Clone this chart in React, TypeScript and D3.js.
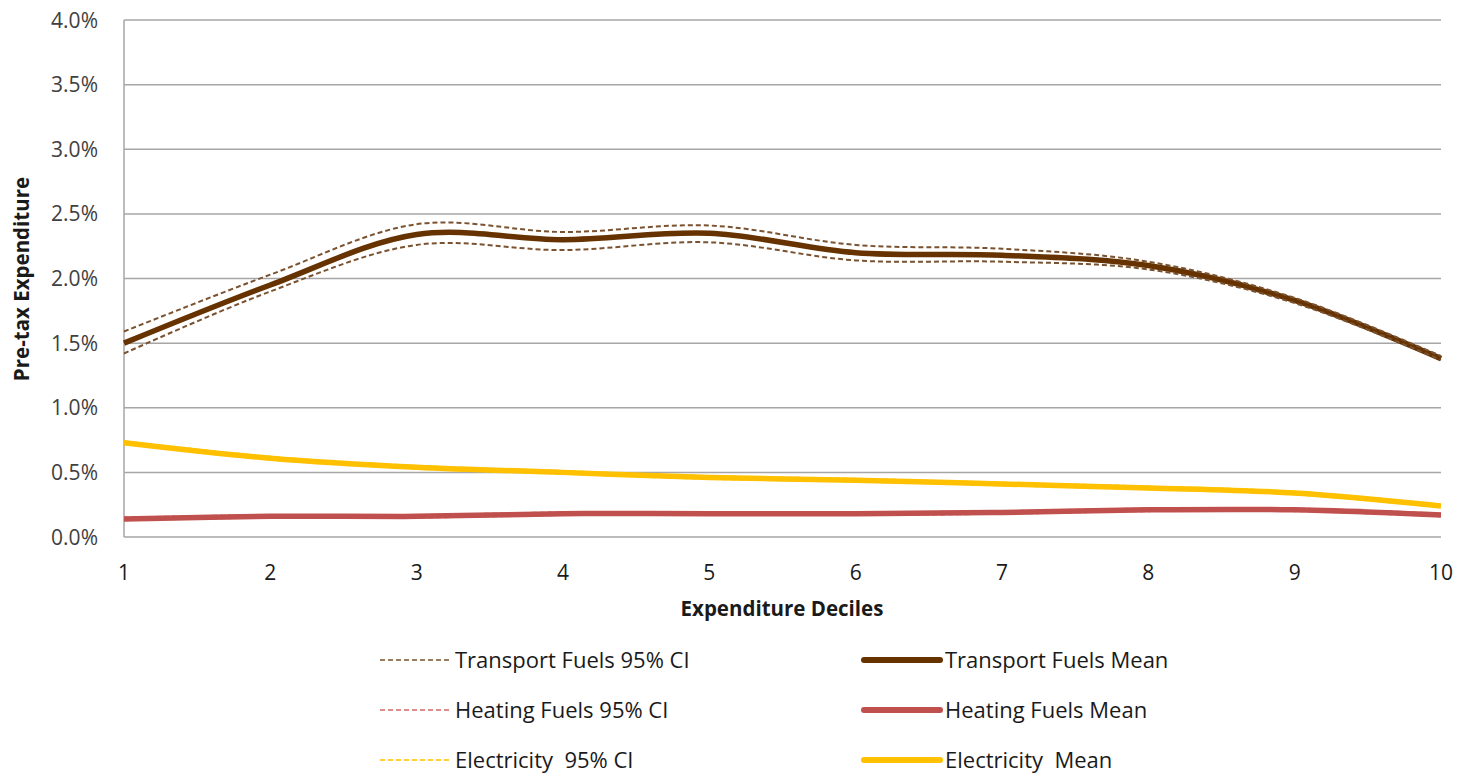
import React from "react";
import * as d3 from "d3";

const deciles = [1, 2, 3, 4, 5, 6, 7, 8, 9, 10];

const transportMean = [1.5, 1.95, 2.34, 2.3, 2.35, 2.2, 2.18, 2.1, 1.83, 1.38];
const transportUpper = [1.59, 2.03, 2.42, 2.36, 2.41, 2.26, 2.23, 2.13, 1.85, 1.4];
const transportLower = [1.42, 1.9, 2.26, 2.22, 2.28, 2.14, 2.13, 2.07, 1.81, 1.37];

const heatingMean = [0.14, 0.16, 0.16, 0.18, 0.18, 0.18, 0.19, 0.21, 0.21, 0.17];
const heatingUpper = [0.15, 0.17, 0.17, 0.19, 0.19, 0.19, 0.2, 0.22, 0.22, 0.18];
const heatingLower = [0.13, 0.15, 0.15, 0.17, 0.17, 0.17, 0.18, 0.2, 0.2, 0.16];

const electricityMean = [0.73, 0.61, 0.54, 0.5, 0.46, 0.44, 0.41, 0.38, 0.34, 0.24];
const electricityUpper = [0.74, 0.62, 0.55, 0.51, 0.47, 0.45, 0.42, 0.39, 0.35, 0.25];
const electricityLower = [0.72, 0.6, 0.53, 0.49, 0.45, 0.43, 0.4, 0.37, 0.33, 0.23];

const yTicks = [0, 0.5, 1, 1.5, 2, 2.5, 3, 3.5, 4];

const legendRows = [
  { ci: "Transport Fuels 95% CI", mean: "Transport Fuels Mean", color: "#663300", ciColor: "#7a5230" },
  { ci: "Heating Fuels 95% CI", mean: "Heating Fuels Mean", color: "#c0504d", ciColor: "#d06a67" },
  { ci: "Electricity  95% CI", mean: "Electricity  Mean", color: "#ffc000", ciColor: "#ffc000" },
];

const width = 1459;
const height = 775;
const plot = { left: 124, right: 1441, top: 20, bottom: 537 };
const font = "'Open Sans', Lato, sans-serif";

export default function App() {
  const x = d3.scaleLinear().domain([1, 10]).range([plot.left, plot.right]);
  const y = d3.scaleLinear().domain([0, 4]).range([plot.bottom, plot.top]);

  const line = d3
    .line<number>()
    .x((_, i) => x(deciles[i]))
    .y((d) => y(d))
    .curve(d3.curveCatmullRom.alpha(0.5));

  const series = [
    { values: heatingLower, color: "#d06a67", dashed: true },
    { values: heatingUpper, color: "#d06a67", dashed: true },
    { values: electricityLower, color: "#ffc000", dashed: true },
    { values: electricityUpper, color: "#ffc000", dashed: true },
    { values: heatingMean, color: "#c0504d", dashed: false },
    { values: electricityMean, color: "#ffc000", dashed: false },
    { values: transportMean, color: "#663300", dashed: false },
    { values: transportUpper, color: "#7a5230", dashed: true },
    { values: transportLower, color: "#7a5230", dashed: true },
  ];

  return (
    <svg
      width={width}
      height={height}
      style={{ position: "absolute", left: 0, top: 0, background: "#fff" }}
    >
      {yTicks.map((t) => (
        <g key={t}>
          <line
            x1={plot.left}
            x2={plot.right}
            y1={y(t)}
            y2={y(t)}
            stroke="#a6a6a6"
            strokeWidth={1.5}
          />
          <text
            x={98}
            y={y(t)}
            dy="0.36em"
            textAnchor="end"
            fontFamily={font}
            fontSize={21}
            fill="#404040"
          >
            {t.toFixed(1)}%
          </text>
        </g>
      ))}
      <line
        x1={plot.left}
        x2={plot.left}
        y1={plot.top}
        y2={plot.bottom}
        stroke="#a6a6a6"
        strokeWidth={1.5}
      />
      {deciles.map((d) => (
        <text
          key={d}
          x={x(d)}
          y={580}
          textAnchor="middle"
          fontFamily={font}
          fontSize={21}
          fill="#1a1a1a"
        >
          {d}
        </text>
      ))}
      <text
        x={782}
        y={616}
        textAnchor="middle"
        fontFamily={font}
        fontSize={20.5}
        fontWeight="bold"
        fill="#1a1a1a"
      >
        Expenditure Deciles
      </text>
      <text
        transform={`translate(29, 279) rotate(-90)`}
        textAnchor="middle"
        fontFamily={font}
        fontSize={20.5}
        fontWeight="bold"
        fill="#1a1a1a"
      >
        Pre-tax Expenditure
      </text>

      {series.map((s, i) => (
        <path
          key={i}
          d={line(s.values) ?? ""}
          fill="none"
          stroke={s.color}
          strokeWidth={s.dashed ? 2 : 5.5}
          strokeDasharray={s.dashed ? "5 3" : undefined}
        />
      ))}

      {legendRows.map((r, i) => {
        const ly = 660 + i * 50;
        return (
          <g key={r.ci}>
            <line x1={380} x2={450} y1={ly} y2={ly} stroke={r.ciColor} strokeWidth={1.5} strokeDasharray="5 3" />
            <text
              x={455}
              y={ly}
              dy="0.36em"
              fontFamily={font}
              fontSize={22}
              fill="#1a1a1a"
              style={{ whiteSpace: "pre" }}
            >
              {r.ci}
            </text>
            <line x1={864} x2={940} y1={ly} y2={ly} stroke={r.color} strokeWidth={6} strokeLinecap="round" />
            <text
              x={945}
              y={ly}
              dy="0.36em"
              fontFamily={font}
              fontSize={22}
              fill="#1a1a1a"
              style={{ whiteSpace: "pre" }}
            >
              {r.mean}
            </text>
          </g>
        );
      })}
    </svg>
  );
}
